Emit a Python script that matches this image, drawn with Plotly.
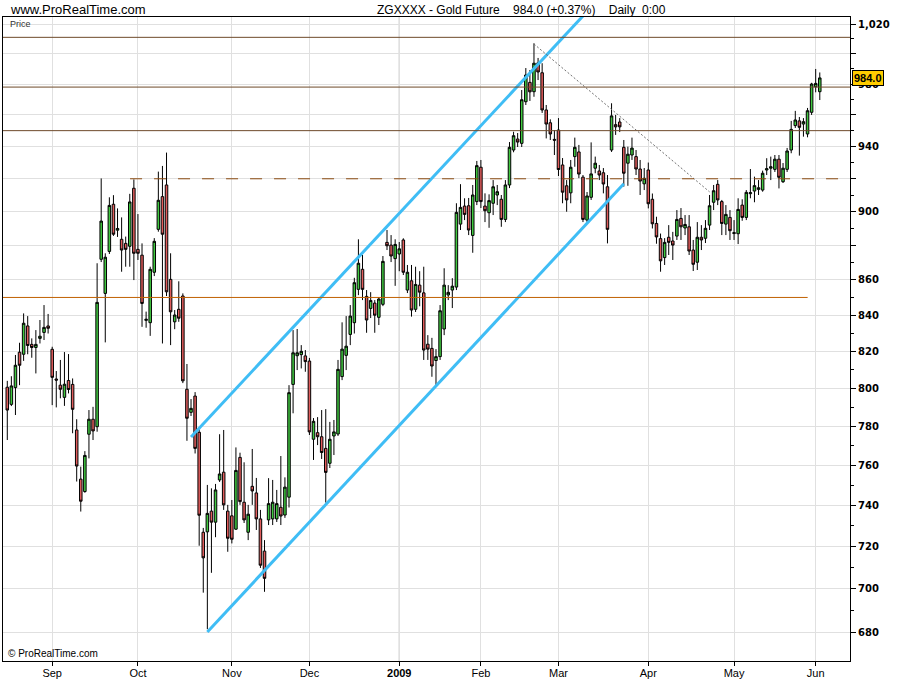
import math
import pandas as pd
import plotly.graph_objects as go

# ---------------- data ----------------
holidays = ['2008-09-01', '2008-11-27', '2008-12-25', '2009-01-01',
            '2009-01-19', '2009-02-16', '2009-04-10', '2009-05-25']
dates = pd.bdate_range('2008-08-15', '2009-06-02', freq='C',
                       holidays=holidays).strftime('%Y-%m-%d').tolist()

open_ = [800.6, 791.5, 800.4, 819.5, 818.4, 834.0, 823.8, 822.1, 827.1, 830.4,
         834.0, 821.1, 805.0, 801.7, 795.2, 804.2, 802.1, 778.1, 753.0, 746.8,
         775.9, 783.7, 779.8, 871.9, 852.3, 876.5, 904.5, 889.0, 883.6, 881.2,
         879.5, 914.2, 877.7, 874.3, 837.1, 835.8, 864.4, 889.5, 909.1, 916.2,
         860.3, 836.3, 843.3, 850.8, 799.5, 787.3, 795.9, 776.9, 726.8, 727.0,
         737.1, 731.7, 752.6, 756.5, 737.1, 734.8, 728.3, 764.0, 741.5, 726.8,
         749.4, 746.1, 733.3, 717.7, 732.8, 733.3, 733.3, 739.0, 735.2, 744.0,
         802.1, 817.6, 818.2, 817.5, 814.7, 773.3, 776.7, 774.6, 768.6, 761.0,
         775.0, 776.0, 806.3, 817.8, 829.3, 835.8, 854.6, 866.1, 850.6, 843.8,
         846.8, 838.8, 846.1, 881.8, 880.2, 872.3, 875.0, 883.2, 854.2, 859.5,
         843.3, 857.0, 852.6, 823.9, 821.6, 815.0, 817.1, 832.3, 851.4, 854.2,
         855.9, 892.6, 903.4, 903.6, 885.9, 906.1, 927.1, 903.4, 899.4, 905.1,
         910.1, 907.5, 895.4, 916.2, 937.8, 944.7, 942.0, 968.5, 981.1, 975.0,
         993.9, 987.4, 963.2, 955.0, 944.5, 950.4, 928.5, 915.7, 911.4, 933.7,
         936.6, 921.0, 895.0, 908.7, 926.5, 924.8, 923.7, 915.1, 937.8, 953.8,
         955.5, 939.5, 929.6, 934.7, 933.7, 926.0, 916.9, 925.4, 907.5, 893.0,
         884.0, 872.9, 884.8, 882.6, 885.5, 896.0, 890.3, 891.0, 877.3, 870.2,
         884.8, 884.2, 892.0, 905.7, 916.6, 906.1, 892.6, 896.6, 887.0, 886.9,
         904.0, 896.6, 910.9, 912.5, 913.5, 913.1, 925.4, 926.5, 925.8, 932.1,
         918.2, 925.8, 937.8, 953.2, 956.2, 954.2, 947.9, 961.7, 978.2, 975.0]
high = [804.0, 806.5, 818.0, 824.7, 841.0, 839.5, 827.1, 831.7, 837.3, 845.7,
        840.7, 822.5, 809.3, 815.3, 819.6, 818.5, 805.3, 783.7, 759.3, 767.2,
        788.5, 790.2, 869.6, 920.2, 875.4, 908.7, 910.0, 902.0, 896.6, 885.2,
        910.8, 919.6, 898.6, 881.2, 842.0, 867.6, 884.3, 924.4, 927.9, 936.2,
        875.4, 842.9, 859.2, 852.3, 813.1, 794.3, 798.0, 779.1, 728.9, 750.1,
        748.4, 750.6, 775.9, 778.1, 740.2, 742.6, 769.1, 766.4, 761.5, 740.2,
        768.3, 753.6, 737.7, 723.0, 753.5, 752.6, 747.6, 764.7, 753.9, 801.7,
        831.7, 832.3, 823.4, 820.7, 816.4, 784.3, 784.8, 788.5, 789.0, 782.3,
        783.3, 815.3, 836.0, 839.5, 845.7, 861.2, 883.6, 874.4, 854.2, 853.0,
        848.5, 850.2, 873.8, 889.1, 886.1, 883.6, 882.0, 884.2, 868.6, 868.6,
        867.6, 865.0, 867.6, 828.9, 827.4, 821.2, 845.7, 866.7, 857.0, 861.0,
        905.1, 916.7, 908.1, 908.3, 916.2, 931.0, 931.6, 911.1, 910.5, 919.2,
        916.2, 910.1, 919.2, 942.8, 949.3, 948.5, 976.1, 990.5, 989.2, 1007.0,
        997.2, 993.7, 966.4, 957.2, 950.4, 958.0, 932.8, 919.2, 931.6, 945.6,
        941.0, 922.3, 911.9, 942.6, 933.7, 928.5, 926.6, 922.3, 967.5, 960.0,
        958.0, 944.1, 939.9, 945.6, 937.8, 931.6, 926.6, 930.0, 911.0, 897.0,
        887.0, 884.3, 892.0, 888.0, 901.0, 902.2, 898.0, 898.0, 883.2, 893.8,
        892.0, 895.0, 910.1, 916.2, 919.2, 907.1, 904.0, 901.0, 895.0, 908.1,
        907.5, 913.1, 926.0, 921.3, 919.2, 925.0, 932.7, 933.7, 934.7, 934.7,
        929.7, 939.1, 956.2, 962.6, 958.7, 958.0, 964.5, 980.8, 989.9, 987.6]
low = [772.9, 790.6, 785.9, 801.7, 814.8, 818.4, 816.5, 808.0, 824.3, 826.2,
       829.8, 791.1, 789.9, 794.7, 790.7, 797.3, 776.4, 751.8, 736.9, 746.2,
       763.5, 772.9, 777.2, 870.3, 824.9, 875.0, 885.6, 885.0, 864.7, 867.6,
       867.6, 859.9, 871.5, 833.5, 833.0, 828.5, 862.2, 888.1, 824.3, 850.8,
       823.4, 832.2, 836.3, 802.8, 772.5, 785.4, 766.0, 720.3, 698.1, 681.3,
       707.4, 724.4, 751.6, 737.7, 717.4, 721.4, 727.9, 740.2, 731.3, 723.0,
       740.2, 727.9, 709.7, 698.5, 730.3, 730.3, 731.8, 730.3, 733.8, 738.9,
       786.8, 809.8, 810.7, 808.9, 775.5, 762.7, 770.3, 763.2, 741.3, 758.6,
       765.2, 775.0, 804.4, 809.8, 823.4, 829.8, 851.3, 848.5, 830.2, 838.4,
       830.2, 834.5, 845.1, 877.3, 870.3, 856.6, 865.0, 862.8, 852.5, 839.2,
       841.8, 845.0, 815.3, 815.3, 806.2, 800.8, 815.3, 828.9, 848.5, 844.0,
       854.2, 889.1, 895.0, 886.1, 875.7, 904.0, 902.2, 893.8, 890.4, 898.0,
       904.0, 891.0, 893.8, 914.3, 936.4, 939.7, 939.7, 966.4, 969.0, 971.7,
       982.6, 961.3, 945.1, 944.1, 934.7, 921.7, 905.1, 900.0, 905.1, 927.4,
       920.4, 893.8, 893.4, 907.1, 923.4, 919.2, 911.1, 881.2, 936.6, 947.3,
       949.1, 915.2, 915.7, 931.6, 922.3, 910.1, 913.1, 902.0, 890.0, 881.0,
       864.7, 868.6, 874.4, 871.5, 883.2, 883.2, 886.1, 874.4, 865.1, 865.7,
       877.3, 881.4, 889.1, 901.0, 904.0, 886.1, 886.1, 883.2, 883.2, 880.8,
       894.6, 895.0, 908.1, 905.7, 910.1, 912.1, 922.3, 919.2, 924.2, 914.1,
       917.4, 924.2, 935.8, 951.7, 934.3, 946.2, 945.8, 960.0, 974.6, 969.6]
close = [788.5, 801.3, 812.4, 812.4, 835.5, 823.2, 822.1, 823.8, 828.3, 833.2,
         832.7, 805.9, 804.4, 799.5, 802.2, 799.4, 788.9, 759.6, 742.0, 765.0,
         783.7, 777.6, 847.2, 894.4, 873.1, 903.8, 886.6, 890.0, 877.3, 877.7,
         905.9, 875.4, 875.4, 846.6, 837.7, 866.1, 882.4, 906.9, 886.6, 853.2,
         841.9, 840.1, 838.3, 804.0, 784.2, 789.4, 768.6, 735.1, 714.5, 736.0,
         731.7, 747.6, 755.6, 740.2, 723.9, 723.4, 757.4, 741.8, 732.8, 735.6,
         747.1, 733.3, 711.0, 704.8, 740.8, 741.5, 740.8, 734.7, 749.0, 797.7,
         819.2, 819.2, 820.0, 814.4, 777.1, 782.6, 774.6, 766.5, 756.4, 773.3,
         777.1, 810.2, 821.2, 822.8, 839.5, 858.4, 869.6, 854.6, 837.3, 848.3,
         840.0, 849.1, 870.7, 879.8, 873.8, 880.6, 878.0, 864.4, 864.4, 842.9,
         857.4, 853.0, 820.7, 821.2, 812.0, 817.1, 842.5, 857.0, 852.9, 856.4,
         899.6, 902.6, 898.4, 889.1, 910.1, 928.1, 906.1, 900.6, 906.7, 915.1,
         912.1, 895.4, 916.2, 939.5, 946.8, 942.8, 969.8, 985.9, 974.9, 993.7,
         987.9, 963.2, 954.2, 947.9, 944.0, 925.7, 911.8, 907.1, 927.1, 939.5,
         922.9, 895.4, 909.5, 923.0, 929.6, 922.3, 916.8, 889.5, 959.4, 952.4,
         952.4, 923.4, 935.2, 939.0, 926.0, 918.6, 920.3, 904.8, 892.8, 885.0,
         871.0, 881.8, 881.8, 880.2, 895.4, 891.0, 892.4, 876.7, 869.0, 884.8,
         883.2, 890.1, 903.6, 912.7, 907.1, 893.0, 898.4, 888.7, 887.5, 901.4,
         896.6, 911.7, 911.5, 915.8, 914.5, 923.4, 926.2, 927.4, 932.1, 920.9,
         926.5, 937.2, 950.8, 956.8, 952.1, 955.7, 962.7, 980.0, 980.4, 984.0]

month_ticks = ['2008-09-02', '2008-10-01', '2008-11-03', '2008-12-01', '2009-01-02',
               '2009-02-02', '2009-03-02', '2009-04-01', '2009-05-01', '2009-06-01']
month_labels = ['Sep', 'Oct', 'Nov', 'Dec', '<b>2009</b>', 'Feb', 'Mar', 'Apr', 'May', 'Jun']

price_ticks = [680, 700, 720, 740, 760, 780, 800, 820, 840, 860, 880, 900,
               920, 940, 960, 980, 1000, 1020]
price_labels = ['680', '700', '720', '740', '760', '780', '800', '820', '840', '860', '',
                '900', '', '940', '', '980', '', '1,020']
minor_ticks = [690, 710, 730, 750, 770, 790, 810, 830, 850, 870, 890, 910,
               930, 950, 970, 990, 1010]

# drawn trend lines (date, price)
channel_upper_dates = ['2008-10-20', '2009-03-10']
channel_upper_prices = [774.5, 1025.5]
channel_lower_dates = ['2008-10-24', '2009-03-24']
channel_lower_prices = [680.0, 917.0]
resistance_dates = ['2009-02-20', '2009-04-23']
resistance_prices = [1006.5, 912.0]

full_levels = [1011.0, 978.0, 950.0]
support_level = 850.0
dashed_level = 920.0

last_price = close[-1]
prev_price = close[-2]

# ---------------- figure ----------------
fig = go.Figure()

fig.add_trace(go.Candlestick(
    x=dates, open=open_, high=high, low=low, close=close,
    increasing=dict(fillcolor='#40c840', line=dict(color='black', width=1)),
    decreasing=dict(fillcolor='#e05c5c', line=dict(color='black', width=1)),
    whiskerwidth=0, showlegend=False, hoverinfo='skip'))

blue = '#3fbdf5'
for dx, py in [(channel_upper_dates, channel_upper_prices),
               (channel_lower_dates, channel_lower_prices)]:
    fig.add_trace(go.Scatter(x=dx, y=py, mode='lines',
                             line=dict(color=blue, width=3),
                             showlegend=False, hoverinfo='skip'))
fig.add_trace(go.Scatter(x=resistance_dates, y=resistance_prices, mode='lines',
                         line=dict(color='#707070', width=1, dash='2px,2px'),
                         showlegend=False, hoverinfo='skip'))

shapes = []
# darker year gridline
shapes.append(dict(type='line', xref='x', yref='paper', x0='2009-01-02', x1='2009-01-02',
                   y0=0, y1=1, line=dict(color='#a8a8a8', width=1), layer='below'))
for lv in full_levels:
    shapes.append(dict(type='line', xref='paper', yref='y', x0=0, x1=1, y0=lv, y1=lv,
                       line=dict(color='#6e4a2a', width=1), layer='above'))
shapes.append(dict(type='line', xref='paper', yref='y', x0=0, x1=0.95,
                   y0=support_level, y1=support_level,
                   line=dict(color='#c06000', width=1), layer='above'))
shapes.append(dict(type='line', xref='paper', yref='y', x0=0.15, x1=0.986,
                   y0=dashed_level, y1=dashed_level,
                   line=dict(color='#8a4a10', width=1, dash='12px,12px'), layer='above'))

pct = (last_price / prev_price - 1) * 100
title_txt = ('ZGXXXX - Gold Future\u00a0\u00a0\u00a0\u00a0%.1f (%+.2f%%)\u00a0\u00a0\u00a0\u00a0Daily\u00a0\u00a00:00'
             % (last_price, pct))

annotations = [
    dict(text='www.ProRealTime.com', xref='paper', yref='paper', x=0.006, y=1.0109,
         xanchor='left', yanchor='middle', showarrow=False,
         font=dict(family='Liberation Sans', size=13, color='black')),
    dict(text=title_txt, xref='paper', yref='paper', x=0.4392, y=1.0109,
         xanchor='left', yanchor='middle', showarrow=False,
         font=dict(family='Liberation Sans', size=12, color='black')),
    dict(text='Price', xref='paper', yref='paper', x=0.006, y=0.989,
         xanchor='left', yanchor='middle', showarrow=False,
         font=dict(family='Liberation Sans', size=9, color='#333333')),
    dict(text='\u00a9 ProRealTime.com', xref='paper', yref='paper', x=0.003, y=0.0124,
         xanchor='left', yanchor='middle', showarrow=False,
         font=dict(family='Liberation Sans', size=10, color='black')),
    dict(text='<b>%.1f</b>' % last_price, xref='paper', yref='y', x=1.0025,
         y=math.log10(last_price), xanchor='left', yanchor='middle', showarrow=False,
         bgcolor='#ffcc00', bordercolor='black', borderwidth=1, borderpad=1,
         font=dict(family='Liberation Sans', size=11, color='black')),
]

fig.update_layout(
    width=900, height=700,
    margin=dict(l=3, r=50, t=17, b=39),
    paper_bgcolor='white', plot_bgcolor='white',
    showlegend=False, boxgap=0.12,
    shapes=shapes, annotations=annotations,
    xaxis=dict(type='category', categoryorder='array', categoryarray=dates,
               range=[-1.05, 206.4], rangeslider=dict(visible=False),
               tickmode='array', tickvals=month_ticks, ticktext=month_labels,
               showgrid=True, gridcolor='#e0e0e0', gridwidth=1,
               showline=True, linecolor='black', linewidth=1, mirror=True,
               ticks='outside', ticklen=4, tickcolor='black', ticklabelstandoff=-2,
               tickfont=dict(family='Liberation Sans', size=11, color='black'),
               zeroline=False, fixedrange=True),
    yaxis=dict(type='log', side='right',
               range=[math.log10(667.0), math.log10(1024.8)],
               tickmode='array', tickvals=price_ticks, ticktext=price_labels,
               showgrid=True, gridcolor='#e0e0e0', gridwidth=1,
               showline=True, linecolor='black', linewidth=1, mirror=True,
               ticks='outside', ticklen=5, tickcolor='black',
               tickfont=dict(family='DejaVu Sans', size=10, color='black', weight='bold'),
               minor=dict(tickvals=minor_ticks, ticks='outside', ticklen=3,
                          tickcolor='black', showgrid=False),
               zeroline=False, fixedrange=True),
)

fig.write_html('out.html', config={'displayModeBar': False},
               post_script="document.body.style.margin='0';")
